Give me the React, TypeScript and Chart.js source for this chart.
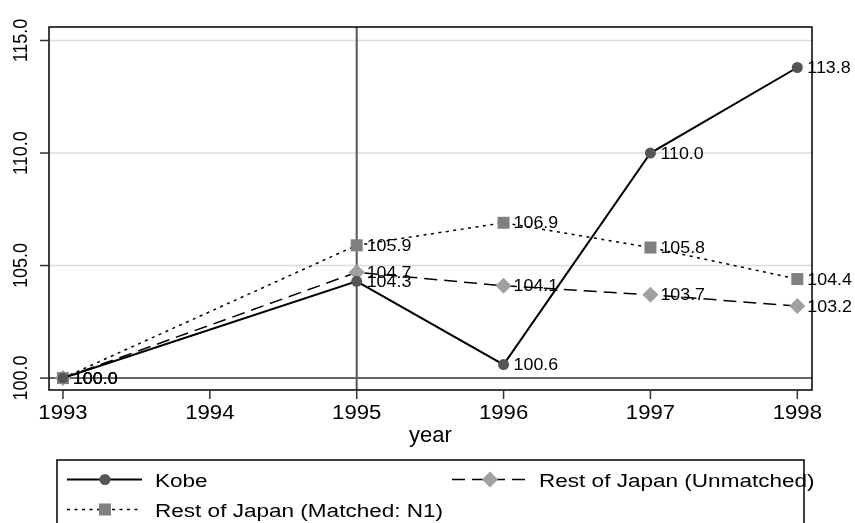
import React, { useEffect, useRef } from "react";
import { Chart, registerables } from "chart.js";

Chart.register(...registerables);

const years = [1993, 1995, 1996, 1997, 1998];
const kobe = [100.0, 104.3, 100.6, 110.0, 113.8];
const unmatched = [100.0, 104.7, 104.1, 103.7, 103.2];
const matched = [100.0, 105.9, 106.9, 105.8, 104.4];
const xTicks = [1993, 1994, 1995, 1996, 1997, 1998];
const yTicks = [100, 105, 110, 115];
const seriesNames = ["Kobe", "Rest of Japan (Unmatched)", "Rest of Japan (Matched: N1)"];
const xTitle = "year";
const refX = 1995;
const refY = 100;

const FONT = "'Liberation Sans', Arial, Helvetica, sans-serif";
const DASH = [13, 7];
const DOT = [3, 4.5];

const toPts = (vals: number[]) => years.map((x, i) => ({ x, y: vals[i] }));

function sText(ctx: any, text: string, x: number, y: number, sx: number, align: string, base: string) {
  ctx.save();
  ctx.translate(x, y);
  ctx.scale(sx, 1);
  ctx.textAlign = align;
  ctx.textBaseline = base;
  ctx.fillText(text, 0, 0);
  ctx.restore();
}

const decor = {
  id: "decor",
  beforeDatasetsDraw(chart: any) {
    const { ctx, chartArea: a, scales } = chart;
    const xs = scales.x, ys = scales.y;
    ctx.save();
    // gridlines
    ctx.strokeStyle = "#dcdcdc";
    ctx.lineWidth = 1.5;
    yTicks.forEach((t) => {
      if (t === refY) return;
      const y = ys.getPixelForValue(t);
      ctx.beginPath();
      ctx.moveTo(a.left, y);
      ctx.lineTo(a.right, y);
      ctx.stroke();
    });
    // reference lines
    ctx.strokeStyle = "#333";
    ctx.lineWidth = 1.5;
    const y0 = ys.getPixelForValue(refY);
    ctx.beginPath();
    ctx.moveTo(a.left, y0);
    ctx.lineTo(a.right, y0);
    ctx.stroke();
    ctx.strokeStyle = "#555";
    ctx.lineWidth = 2;
    const x0 = xs.getPixelForValue(refX);
    ctx.beginPath();
    ctx.moveTo(x0, a.top);
    ctx.lineTo(x0, a.bottom);
    ctx.stroke();
    // box
    ctx.strokeStyle = "#000";
    ctx.lineWidth = 1.5;
    ctx.strokeRect(a.left, a.top, a.right - a.left, a.bottom - a.top);
    // ticks
    ctx.strokeStyle = "#333";
    ctx.lineWidth = 1.5;
    yTicks.forEach((t) => {
      const y = ys.getPixelForValue(t);
      ctx.beginPath();
      ctx.moveTo(a.left - 9, y);
      ctx.lineTo(a.left, y);
      ctx.stroke();
    });
    xTicks.forEach((t) => {
      const x = xs.getPixelForValue(t);
      ctx.beginPath();
      ctx.moveTo(x, a.bottom);
      ctx.lineTo(x, a.bottom + 9);
      ctx.stroke();
    });
    // tick labels
    ctx.fillStyle = "#000";
    ctx.font = `20.5px ${FONT}`;
    xTicks.forEach((t) => {
      sText(ctx, String(t), xs.getPixelForValue(t), a.bottom + 29, 1.08, "center", "alphabetic");
    });
    ctx.font = `22px ${FONT}`;
    sText(ctx, xTitle, (a.left + a.right) / 2, a.bottom + 52, 1.0, "center", "alphabetic");
    ctx.font = `18px ${FONT}`;
    yTicks.forEach((t) => {
      const y = ys.getPixelForValue(t);
      ctx.save();
      ctx.translate(a.left - 22, y);
      ctx.rotate(-Math.PI / 2);
      ctx.scale(1, 1.17);
      ctx.textAlign = "center";
      ctx.textBaseline = "alphabetic";
      ctx.fillText(t.toFixed(1), 0, 0);
      ctx.restore();
    });
    ctx.restore();
  },
  afterDatasetsDraw(chart: any) {
    const { ctx } = chart;
    ctx.save();
    ctx.fillStyle = "#000";
    ctx.font = `16.5px ${FONT}`;
    chart.data.datasets.forEach((ds: any, di: number) => {
      const meta = chart.getDatasetMeta(di);
      meta.data.forEach((el: any, i: number) => {
        sText(ctx, ds.data[i].y.toFixed(1), el.x + 10, el.y + 1, 1.08, "left", "middle");
      });
    });
    ctx.restore();
  },
  afterDraw(chart: any) {
    const { ctx } = chart;
    ctx.save();
    ctx.strokeStyle = "#000";
    ctx.lineWidth = 1.5;
    ctx.strokeRect(57, 460, 804 - 57, 80);
    const items = [
      { x: 67, y: 479.5, tx: 155, dash: [], style: "circle", color: "#555", r: 5.5, w: 2 },
      { x: 452, y: 479.5, tx: 539, dash: DASH, style: "rectRot", color: "#a0a0a0", r: 8, w: 1.5 },
      { x: 67, y: 509.5, tx: 155, dash: DOT, style: "rect", color: "#808080", r: 8.5, w: 1.5 },
    ];
    items.forEach((it, i) => {
      ctx.strokeStyle = "#000";
      ctx.lineWidth = it.w;
      ctx.setLineDash(it.dash);
      ctx.beginPath();
      ctx.moveTo(it.x, it.y);
      ctx.lineTo(it.x + 75, it.y);
      ctx.stroke();
      ctx.setLineDash([]);
      ctx.fillStyle = it.color;
      const cx = it.x + 38, cy = it.y;
      ctx.beginPath();
      if (it.style === "circle") {
        ctx.arc(cx, cy, it.r, 0, Math.PI * 2);
      } else if (it.style === "rect") {
        const s = it.r * Math.SQRT1_2;
        ctx.rect(cx - s, cy - s, 2 * s, 2 * s);
      } else {
        ctx.moveTo(cx, cy - it.r);
        ctx.lineTo(cx + it.r, cy);
        ctx.lineTo(cx, cy + it.r);
        ctx.lineTo(cx - it.r, cy);
        ctx.closePath();
      }
      ctx.fill();
      ctx.fillStyle = "#000";
      ctx.font = `18.8px ${FONT}`;
      sText(ctx, seriesNames[i], it.tx, it.y + 7.5, 1.2, "left", "alphabetic");
    });
    ctx.restore();
  },
};

export default function App() {
  const ref = useRef<HTMLCanvasElement>(null);
  useEffect(() => {
    if (!ref.current) return;
    const chart = new Chart(ref.current, {
      type: "line",
      data: {
        datasets: [
          {
            label: seriesNames[0],
            data: toPts(kobe),
            borderColor: "#000",
            borderWidth: 2,
            pointStyle: "circle",
            pointRadius: 5.5,
            pointBackgroundColor: "#555",
            pointBorderColor: "#555",
            pointBorderWidth: 0,
          },
          {
            label: seriesNames[1],
            data: toPts(unmatched),
            borderColor: "#000",
            borderWidth: 1.5,
            borderDash: DASH,
            pointStyle: "rectRot",
            pointRadius: 8,
            pointBackgroundColor: "#a0a0a0",
            pointBorderColor: "#a0a0a0",
            pointBorderWidth: 0,
          },
          {
            label: seriesNames[2],
            data: toPts(matched),
            borderColor: "#000",
            borderWidth: 1.5,
            borderDash: DOT,
            pointStyle: "rect",
            pointRadius: 8.5,
            pointBackgroundColor: "#808080",
            pointBorderColor: "#808080",
            pointBorderWidth: 0,
          },
        ],
      },
      options: {
        animation: false,
        responsive: false,
        layout: { padding: { left: 49, top: 27, right: 43, bottom: 133 } },
        plugins: { legend: { display: false }, tooltip: { enabled: false } },
        scales: {
          x: { type: "linear", min: 1992.905, max: 1998.1, display: false },
          y: { type: "linear", min: 99.47, max: 115.6, display: false },
        },
      },
      plugins: [decor],
    });
    return () => chart.destroy();
  }, []);
  return (
    <div style={{ position: "fixed", left: 0, top: 0, width: 855, height: 523 }}>
      <canvas ref={ref} width={855} height={523} style={{ display: "block" }} />
    </div>
  );
}
